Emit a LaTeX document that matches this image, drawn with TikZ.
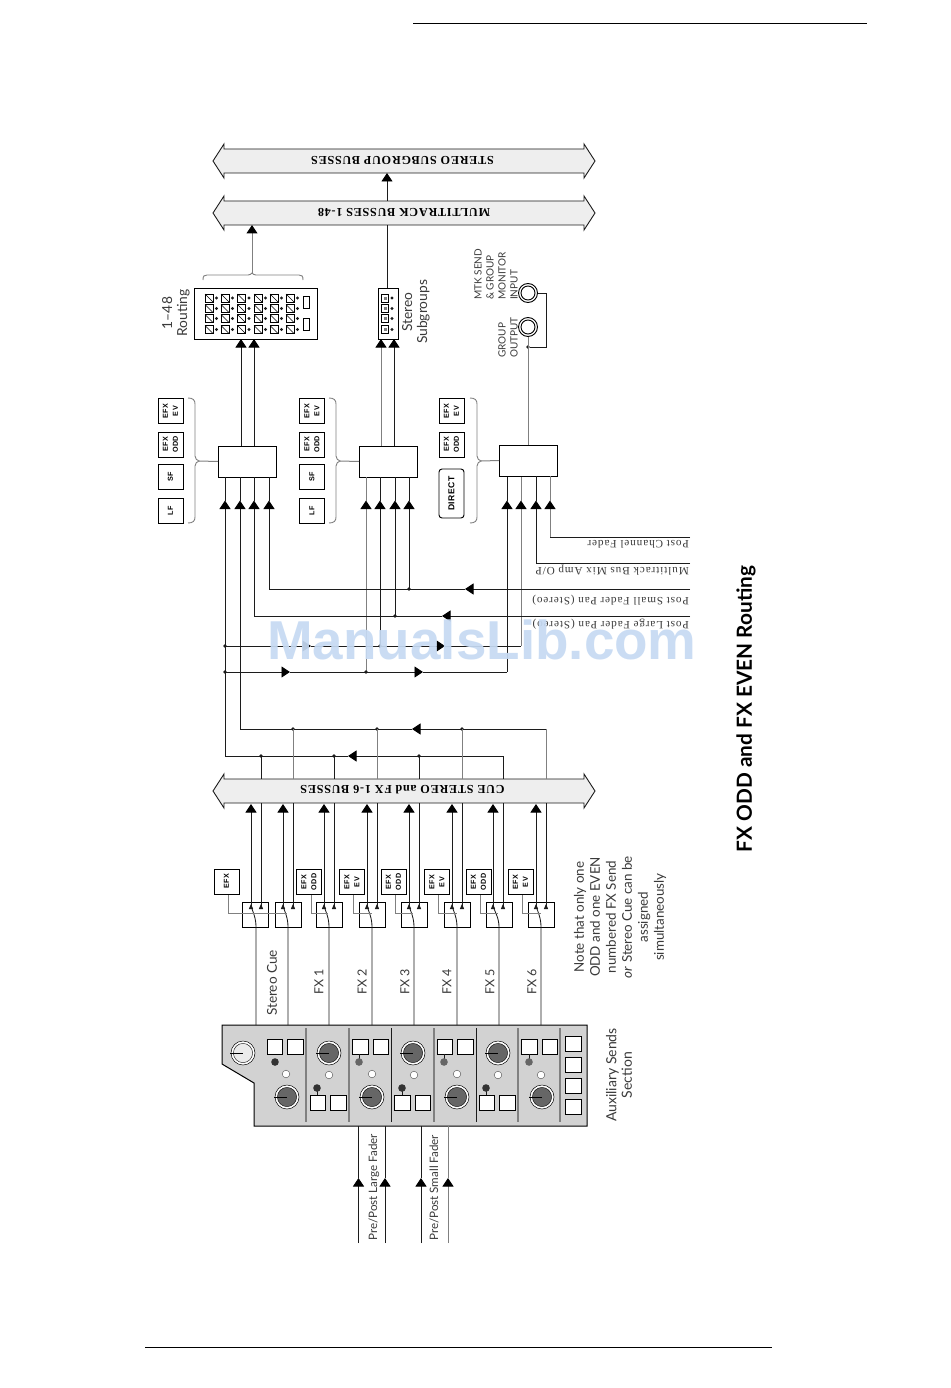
\documentclass[tikz,border=0pt]{standalone}
\usepackage{fontspec}
\setmainfont{Lato}
\newfontfamily\busfont[LetterSpace=6]{Liberation Serif}
\newfontfamily\postfont[LetterSpace=8]{Liberation Serif}
\newfontfamily\boxfont[LetterSpace=6]{Liberation Sans}
\newfontfamily\wmfont{Liberation Sans}
\usetikzlibrary{arrows.meta,calc}
\definecolor{ink}{HTML}{1C1C1C}
\definecolor{txt}{HTML}{3A3A3A}
\definecolor{gline}{HTML}{808080}
\definecolor{panel}{HTML}{D2D2D2}
\definecolor{busfill}{HTML}{EEEEEE}
\definecolor{wm}{HTML}{C6DAF3}
\tikzset{
  wire/.style={draw=ink,line width=0.85pt},
  gwire/.style={draw=gline,line width=1pt},
  tiparrow/.style={-{Triangle[length=8.5pt,width=11pt,color=black,fill=black]}},
  box/.style={draw=black,line width=0.95pt,fill=white,inner sep=0pt,outer sep=0pt},
  lblbox/.style={box,rotate=90,minimum width=25pt,minimum height=25pt,align=center,font=\boxfont\bfseries\fontsize{7.2}{10}\selectfont},
  swbox/.style={box,minimum width=26pt,minimum height=25pt,fill=none},
  mixbox/.style={box,minimum width=58pt,minimum height=31pt},
  buslabel/.style={rotate=180,font=\busfont\bfseries\fontsize{12.2}{14}\selectfont,inner sep=0pt},
  postlabel/.style={rotate=180,anchor=west,font=\postfont\fontsize{11.2}{13}\selectfont,inner sep=0pt,text=txt},
  vlabel/.style={rotate=90,font=\fontsize{12.5}{16}\selectfont,inner sep=0pt,text=txt,align=center},
  vsmall/.style={rotate=90,font=\fontsize{10}{12}\selectfont,inner sep=0pt,text=txt,anchor=west},
  dot/.style={circle,fill=ink,inner sep=0pt,minimum size=3.8pt},
  bracket/.style={draw=gline,line width=0.9pt},
  busshape/.style={draw=ink,line width=0.9pt,fill=busfill},
  pbtn/.style={draw=black,line width=0.8pt,fill=white},
  ledline/.style={draw=ink,line width=0.7pt},
}
\newcommand{\busbar}[2]{% y centre, half-height of shaft
  \draw[busshape] (213,#1) -- (224,#1-17) -- (224,#1-#2) -- (584,#1-#2) -- (584,#1-17) -- (595,#1) -- (584,#1+17) -- (584,#1+#2) -- (224,#1+#2) -- (224,#1+17) -- cycle;}
\newcommand{\vbrace}[2]{% spine x, nib x
  \draw[bracket] (#1-7,398) .. controls (#1-2,398) and (#1,400) .. (#1,404) -- (#1,456) .. controls (#1,459) and (#2-2,460) .. (#2,461) .. controls (#2-2,462) and (#1,463) .. (#1,466) -- (#1,517) .. controls (#1,521) and (#1-2,523) .. (#1-7,523);}
\begin{document}
\begin{tikzpicture}[x=1pt,y=-1pt]
\useasboundingbox[fill=white] (0,0) rectangle (950,1388);

% page rules
\coordinate (ruleTL) at (413,23); \coordinate (ruleTR) at (867,23);
\coordinate (ruleBL) at (145,1347); \coordinate (ruleBR) at (772,1347);
\draw[draw=black,line width=0.9pt] (ruleTL) -- (ruleTR);
\draw[draw=black,line width=0.9pt] (ruleBL) -- (ruleBR);

% busses
\busbar{161}{12}
\busbar{213}{12}
\busbar{791}{12}
\node[buslabel] (busSS) at (402.5,160) {STEREO SUBGROUP BUSSES};
\node[buslabel] (busMT) at (404,212) {MULTITRACK BUSSES 1-48};
\node[buslabel] (busCUE) at (402.5,790) {CUE STEREO and FX 1-6 BUSSES};
\coordinate (mtTop) at (387,201);
\coordinate (ssBot) at (387,173);
\draw[wire,tiparrow] (mtTop) -- (ssBot);

% routing panels
\node[box,minimum width=123pt,minimum height=51pt] (routing) at (255.5,313.5) {};
\node[box,minimum width=20pt,minimum height=51pt] (subgrp) at (388,313.5) {};
\coordinate (mtA) at (252,225);
\coordinate (mtB) at (387,225);
\coordinate (brUp) at (252,273);
\draw[gwire,tiparrow] (brUp) -- (mtA);
\draw[wire] (subgrp.north -| mtB) -- (mtB);
\draw[bracket] (203,280) .. controls (203,276) and (204,275) .. (207,275) -- (248,275) .. controls (250,275) and (251,274) .. (brUp) .. controls (253,274) and (254,275) .. (256,275) -- (299,275) .. controls (302,275) and (303,276) .. (303,280);

\foreach \x in {209,225,241.5,258,274,290} \foreach \y in {298,308.5,318.5,329.5}{
  \draw[draw=black,line width=0.6pt,fill=white] (\x-4,\y-4) rectangle (\x+4,\y+4);
  \draw[draw=black,line width=0.45pt] (\x-4,\y-4) -- (\x+4,\y+4);
  \fill[ink] (\x+7.5,\y) circle (1.7pt);
}
\draw[draw=black,line width=0.7pt,fill=white] (303,296) rectangle (309,308);
\draw[draw=black,line width=0.7pt,fill=white] (303,318) rectangle (309,330);
\foreach \y in {298,308.5,318.5,329.5}{
  \draw[draw=black,line width=0.6pt,fill=white] (381.5,\y-3.8) rectangle (388.5,\y+3.8);
  \fill[gline] (383.5,\y-1.5) rectangle (386.5,\y+1.5);
  \fill[ink] (392,\y) circle (1.7pt);
}

% mix boxes
\node[mixbox] (mixA) at (247,461.5) {};
\node[mixbox] (mixB) at (388,461.5) {};
\node[mixbox] (mixC) at (528,460.5) {};

% up to routing
\draw[wire,tiparrow] (mixA.north -| 241,0) -- (routing.south -| 241,0);
\draw[wire,tiparrow] (mixA.north -| 254,0) -- (routing.south -| 254,0);
\draw[gwire,tiparrow] (mixB.north -| 381,0) -- (subgrp.south -| 381,0);
\draw[wire,tiparrow] (mixB.north -| 394,0) -- (subgrp.south -| 394,0);

% jacks
\node[draw=black,circle,line width=0.9pt,minimum size=19pt,inner sep=0pt] (jackIn) at (528,293) {};
\node[draw=black,circle,line width=0.9pt,minimum size=14pt,inner sep=0pt] at (jackIn) {};
\node[draw=black,circle,line width=0.9pt,minimum size=19pt,inner sep=0pt] (jackOut) at (528,327) {};
\node[draw=black,circle,line width=0.9pt,minimum size=14pt,inner sep=0pt] at (jackOut) {};
\node[dot] (jackDot) at (528,347) {};
\draw[gwire] (jackOut) ++(0,9.5) -- (jackOut.south |- mixC.north);
\draw[wire] (jackIn.east) -- (546,293) -- (546,347) -- (jackDot);

% label boxes and braces
\foreach \yc/\nm/\t in {411/ev/{EFX\\EV},444.5/odd/{EFX\\ODD},477/sf/SF,510.5/lf/LF}{
  \node[lblbox] (colA\nm) at (170.5,\yc) {\t};
  \node[lblbox] (colB\nm) at (312,\yc) {\t};
}
\foreach \yc/\nm/\t in {411/ev/{EFX\\EV},444.5/odd/{EFX\\ODD}}{
  \node[lblbox] (colC\nm) at (451.5,\yc) {\t};
}
\node[lblbox,minimum width=49pt,rounded corners=3pt,font=\boxfont\bfseries\fontsize{8.6}{10}\selectfont] (colCdir) at (451.5,493.5) {DIRECT};
\vbrace{195}{199}
\vbrace{336}{340}
\vbrace{477}{481}
\draw[gwire] (199,461) -- (mixA.west);
\draw[gwire] (340,461) -- (mixB.west);
\draw[gwire] (481,461) -- (mixC.west);

% wires into mix boxes with mid arrows
\foreach \x/\yb/\sty in {225/756/wire,240/729/wire,254/616/wire,269/589/wire,
                         366/672/gwire,380/646/wire,395/616/wire,409/589/wire,
                         507/672/wire,521/646/gwire}{
  \coordinate (t) at (\x,500.5);
  \draw[\sty,tiparrow] (\x,\yb) -- (t);
  \draw[\sty] (t) -- (\x,477);
}
\foreach \x/\yb/\sty in {536/563/wire,550/537/gwire}{
  \coordinate (t) at (\x,500.5);
  \draw[\sty,tiparrow] (\x,\yb) -- (t);
  \draw[\sty] (t) -- (\x,476);
}

% post lines
\coordinate (pcf) at (690,537); \coordinate (pmt) at (690,563);
\coordinate (psf) at (690,589); \coordinate (plf) at (690,616);
\draw[wire] (pcf) -- (550,537);
\draw[wire] (pmt) -- (536,563);
\draw[wire,tiparrow] (psf) -- (465,589); \draw[wire] (465,589) -- (269,589);
\draw[wire,tiparrow] (plf) -- (442,616); \draw[wire] (442,616) -- (254,616);
\node[dot] at (409,589) {};
\node[dot] at (395,616) {};

% cross feeds
\draw[wire,tiparrow] (225,646) -- (311,646);
\draw[wire,tiparrow] (311,646) -- (445,646);
\draw[wire] (445,646) -- (521,646);
\draw[wire,tiparrow] (225,672) -- (290,672);
\draw[wire,tiparrow] (290,672) -- (423,672);
\draw[wire] (423,672) -- (507,672);
\foreach \p in {(225,646),(225,672),(380,646),(366,672)} \node[dot] at \p {};

% returns from cue busses
\coordinate (retA) at (503,756);
\coordinate (retB) at (546,729);
\draw[wire,tiparrow] (retA) -- (348,756);
\draw[wire] (348,756) -- (225,756);
\draw[wire,tiparrow] (retB) -- (412,729);
\draw[wire] (412,729) -- (240,729);
\foreach \x in {261,334,419} {\node[dot] at (\x,756) {}; \draw[wire] (\x,756) -- (\x,779);}
\draw[wire] (retA) -- (503,779);
\foreach \x in {293,377,462} {\node[dot] at (\x,729) {}; \draw[gwire] (\x,729) -- (\x,779);}
\draw[gwire] (retB) -- (546,779);

% aux panel
\node[coordinate] (panelTL) at (222,1025) {};
\draw[draw=black,line width=1pt,fill=panel] (panelTL) -- (587,1025) -- (587,1126) -- (254,1126) -- (254,1083) -- (222,1064) -- cycle;

% switches
\foreach \i/\xa/\xb/\xo/\cx/\ctl/\ctr in {1/251/261/256/255.5/228/287,2/283/293/288/288/228/287,
    3/324/334/329/329.5/311/328,4/367/377/372/372/353/372,5/409/419/414/414/395/413,
    6/452/462/457/457.5/438/457,7/493/503/499/499/480/498,8/536/546/541/541/522/541}{
  \node[swbox] (sw\i) at (\cx,914.5) {};
  \draw[wire,tiparrow] (\xa,907) -- (\xa,804);
  \draw[wire] (\xb,803) -- (\xb,908);
  \fill[ink] (\xa,904) -- (\xa+2.2,909) -- (\xa-2.2,909) -- cycle;
  \fill[ink] (\xb,904) -- (\xb+2.2,909) -- (\xb-2.2,909) -- cycle;
  \draw[wire] (\xa,906) .. controls (\xa+2,912) and (\xo,918) .. (\xo,927) -- (\xo,1025);
  \ifnum\i>2
    \draw[draw=gline,line width=0.9pt] (\ctl,894) -- (\ctl,913.5) -- (\ctr,913.5);
  \fi
}
\draw[gwire] (228,894) -- (228,913.5) -- (287,913.5);

% assign boxes
\node[lblbox] (swLbl1) at (226.5,881.5) {EFX};
\foreach \cx/\t/\nm in {309/{EFX\\ODD}/a,352/{EFX\\EV}/b,393.5/{EFX\\ODD}/c,437/{EFX\\EV}/d,478.5/{EFX\\ODD}/e,520.5/{EFX\\EV}/f}{
  \node[lblbox] (swLbl\nm) at (\cx,882) {\t};
}

% channel labels
\node[vlabel,font=\fontsize{13.6}{16}\selectfont,anchor=west] (lblCue) at (272,1016) {Stereo Cue};
\foreach \x/\t/\nm in {319/FX 1/a,362/FX 2/b,405/FX 3/c,447/FX 4/d,490/FX 5/e,532/FX 6/f}{
  \node[vlabel,anchor=west] (lblFx\nm) at (\x,995) {\t};
}

% panel dividers
\foreach \x/\c/\w in {306/gline/1.4,349/gline/1.4,391/ink/1,434/gline/1.2,476/ink/1,518/gline/1.2,560/gline/1.1}{
  \draw[draw=\c,line width=\w pt] (\x,1028) -- (\x,1122);
}
% knobs
\newcommand{\knob}[3]{
  \draw[draw=black,line width=0.5pt,fill=white] (#1,#2) circle (12pt);
  \draw[draw=black,line width=0.4pt,fill=#3] (#1,#2) circle (9.6pt);
  \draw[draw=black,line width=0.9pt] (#1-13,#2) -- (#1,#2);
}
\knob{243}{1053}{white!92!black}
\foreach \x/\y in {287/1097,329/1053,372/1097,413/1053,457/1097,498/1053,542/1097}{\knob{\x}{\y}{black!60}}
% buttons
\foreach \a/\b/\y in {267/282/1039,287/303/1039,310/325/1095,330/346/1095,352/368/1039,373/388/1039,
    394/410/1095,415/430/1095,437/452/1039,457/473/1039,479/494/1095,499/515/1095,521/537/1039,542/557/1039,
    565/581/1036,565/581/1057,565/581/1078,565/581/1099}{
  \draw[pbtn] (\a,\y) rectangle (\b,\y+15.2);
}
% LEDs
\fill[black!80] (275,1062) circle (3.8pt);
\foreach \x/\y/\c/\ys in {317/1088/80/1095,359/1062/60/1054,402/1088/80/1095,444/1062/60/1054,486/1088/80/1095,529/1062/60/1054}{
  \draw[ledline] (\x,\y) -- (\x,\ys);
  \fill[black!\c] (\x,\y) circle (3.8pt);
}
\foreach \x/\y in {286/1074,329/1075,372/1074,414/1075,457/1074,498/1075,541/1075}{
  \draw[draw=black!70,line width=0.4pt,fill=white] (\x,\y) circle (3.8pt);
}

% pre/post feeds
\foreach \x/\sty in {358.5/wire,385/wire,421/wire,448/gwire}{
  \coordinate (t) at (\x,1178);
  \draw[\sty,tiparrow] (\x,1243) -- (t);
  \draw[\sty] (t) -- (\x,1126);
}

% text labels
\node[vlabel,font=\fontsize{11.6}{12}\selectfont,anchor=west] (lblLarge) at (374,1241) {Pre/Post Large Fader};
\node[vlabel,font=\fontsize{11.6}{12}\selectfont,anchor=west] (lblSmall) at (434,1241) {Pre/Post Small Fader};
\node[vlabel,font=\fontsize{14}{15.5}\selectfont] (lblAux) at (619,1075) {Auxiliary Sends\\Section};
\node[vlabel,font=\fontsize{13.4}{16}\selectfont] (lblNote) at (620,917) {Note that only one\\ODD and one EVEN\\numbered FX Send\\\textit{or} Stereo Cue can be\\assigned\\simultaneously};
\node[vlabel,font=\fontsize{13.8}{15}\selectfont] (lbl48) at (176,313) {1–48\\Routing};
\node[vlabel,font=\fontsize{13.8}{15}\selectfont] (lblSg) at (416,312) {Stereo\\Subgroups};
\node[vsmall] (m1) at (478,300) {MTK SEND};
\node[vsmall] (m2) at (490,300) {\& GROUP};
\node[vsmall] (m3) at (502,300) {MONITOR};
\node[vsmall] (m4) at (514,300) {INPUT};
\node[vsmall] (g1) at (502,358) {GROUP};
\node[vsmall] (g2) at (514,358) {OUTPUT};
\node[postlabel] (tCF) at (689,544) {Post Channel Fader};
\node[postlabel] (tMT) at (689,570) {Multitrack Bus Mix Amp O/P};
\node[postlabel] (tSF) at (689,600) {Post Small Fader Pan (Stereo)};
\node[postlabel] (tLF) at (689,624) {Post Large Fader Pan (Stereo)};
\node[rotate=90,font=\bfseries\fontsize{20.8}{22}\selectfont,text=black,inner sep=0pt] (title) at (746,709) {FX ODD and FX EVEN Routing};

% watermark
\node[font=\wmfont\bfseries\fontsize{54.8}{60}\selectfont,text=wm,opacity=0.92,inner sep=0pt] (wmark) at (482,640) {ManualsLib.com};
\end{tikzpicture}
\end{document}
